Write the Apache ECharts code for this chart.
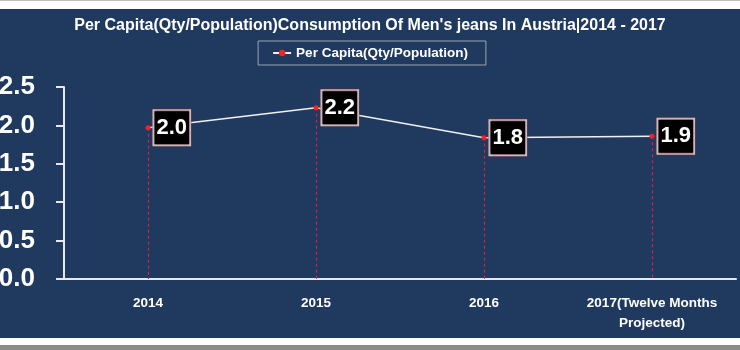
<!DOCTYPE html>
<html>
<head>
<meta charset="utf-8">
<script src="https://cdn.jsdelivr.net/npm/echarts@6/dist/echarts.min.js"></script>
<style>
  html, body { margin: 0; padding: 0; background: #ffffff; }
  #chart { width: 740px; height: 350px; }
</style>
</head>
<body>
<div id="chart"></div>
<script>
// Per capita consumption of men's jeans in Austria, 2014-2017
const categories = ['2014', '2015', '2016', '2017(Twelve Months\nProjected)'];
const perCapita = [1.97, 2.23, 1.84, 1.86];
const seriesName = 'Per Capita(Qty/Population)';
const chartTitle = "Per Capita(Qty/Population)Consumption Of Men's jeans In Austria|2014 - 2017";

const navy = '#203a5f';
const font = '"Liberation Sans", Arial, sans-serif';

// vertical dashed drop lines from each point down to the axis
const dropLines = perCapita.map((v, i) => [
  { coord: [i, v] },
  { coord: [i, 0] }
]);

const chart = echarts.init(document.getElementById('chart'));
chart.setOption({
  backgroundColor: '#ffffff',
  animation: false,
  graphic: [
    { type: 'rect', z: -10, silent: true, shape: { x: 0, y: 9, width: 740, height: 329 }, style: { fill: navy } },
    { type: 'rect', z: -10, silent: true, shape: { x: 0, y: 345, width: 740, height: 5 }, style: { fill: '#8a8a8a' } },
    { type: 'rect', z: -10, silent: true, shape: { x: 0, y: 0, width: 740, height: 1 }, style: { fill: '#bdbdbd' } }
  ],
  title: {
    text: chartTitle,
    left: 'center',
    top: 13,
    textStyle: { color: '#ffffff', fontSize: 16, fontWeight: 'bold', fontFamily: font }
  },
  legend: {
    top: 41,
    left: 'center',
    data: [seriesName],
    borderColor: '#9aa3b0',
    borderWidth: 1,
    padding: [5, 18, 5, 14],
    itemWidth: 18,
    itemHeight: 8,
    itemGap: 4,
    textStyle: { color: '#ffffff', fontSize: 13.5, fontWeight: 'bold', fontFamily: font }
  },
  grid: { left: 64, right: 4, top: 87, bottom: 71, containLabel: false, outerBoundsMode: 'none' },
  xAxis: {
    type: 'category',
    data: categories,
    boundaryGap: true,
    axisLine: { lineStyle: { color: '#e8e8e8', width: 2 } },
    axisTick: { show: false },
    axisLabel: {
      color: '#ffffff', fontSize: 13.5, fontWeight: 'bold', fontFamily: font,
      margin: 14, lineHeight: 20, interval: 0
    },
    splitLine: { show: false }
  },
  yAxis: {
    type: 'value',
    min: 0,
    max: 2.5,
    interval: 0.5,
    axisLine: { show: true, lineStyle: { color: '#e8e8e8', width: 2 } },
    axisTick: { show: true, length: 8, lineStyle: { color: '#e8e8e8', width: 2 } },
    axisLabel: {
      color: '#ffffff', fontSize: 26, fontWeight: 'bold', fontFamily: font,
      margin: 29, formatter: v => v.toFixed(1)
    },
    splitLine: { show: false }
  },
  series: [{
    name: seriesName,
    type: 'line',
    data: perCapita,
    symbol: 'circle',
    symbolSize: 5,
    itemStyle: { color: '#ff2020' },
    lineStyle: { color: '#f0f0f0', width: 1.5 },
    label: {
      show: true,
      position: 'right',
      distance: 4,
      formatter: p => p.value.toFixed(1),
      color: '#ffffff',
      fontSize: 22,
      fontWeight: 'bold',
      fontFamily: font,
      backgroundColor: '#000000',
      borderColor: '#c8c8c8',
      borderWidth: 2,
      padding: [6, 2, 5, 2],
      shadowColor: '#8c1c2c',
      shadowBlur: 2
    },
    markLine: {
      silent: true,
      symbol: 'none',
      label: { show: false },
      lineStyle: { color: '#c8283c', type: [3, 3], width: 1.2 },
      data: dropLines
    }
  }]
});
</script>
</body>
</html>
